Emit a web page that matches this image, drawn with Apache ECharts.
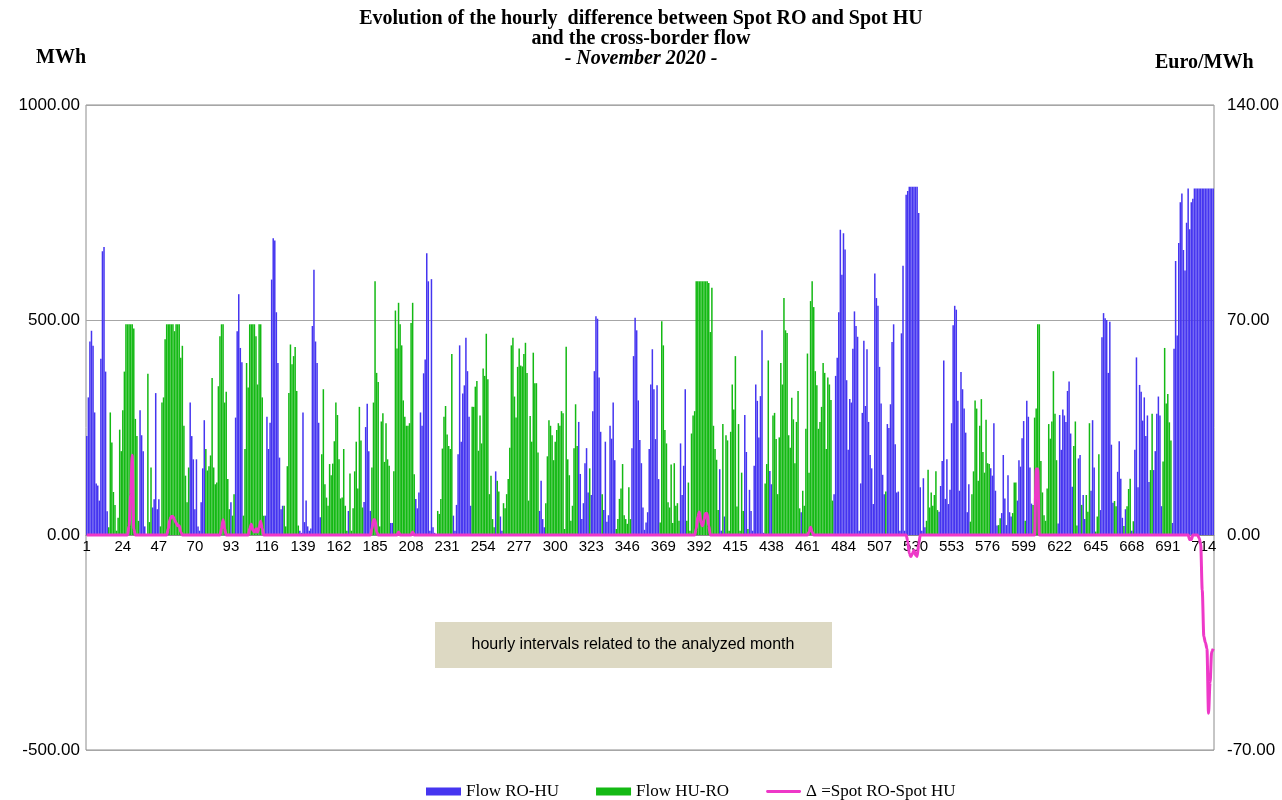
<!DOCTYPE html>
<html>
<head>
<meta charset="utf-8">
<title>Spot RO - Spot HU and cross-border flow, November 2020</title>
<script src="https://cdn.jsdelivr.net/npm/echarts@6/dist/echarts.min.js"></script>
<style>body{margin:0;background:#fff}</style>
</head>
<body>
<div id="main" style="width:1282px;height:800px"></div>
<script>
// hourly net flow, MWh: positive = RO->HU, negative = HU->RO (3 days per line)
var netFlow = [
  230,320,450,475,440,285,120,115,80,410,660,670,380,55,-18,-285,-215,-100,-70,-10,-40,-245,-195,-290,-380,-490,-490,-490,-490,-490,-480,-270,-230,-33,290,232,195,20,0,-375,-30,-157,64,83,330,60,83,-20,-308,-320,-455,-490,-490,-490,-490,-490,-474,-490,-490,-490,-412,-440,-254,-138,-76,-157,308,230,176,60,176,20,
  10,76,155,267,-200,-150,-160,-185,-365,-157,-118,-122,-346,-462,-490,-490,-308,-333,-130,-60,76,-45,-95,273,474,560,435,402,-45,-200,-400,-343,-490,-490,-490,-490,-462,-350,-490,-490,-320,-45,45,275,200,261,594,690,685,518,400,180,60,68,-68,-20,-160,-330,-443,-397,-416,-437,-335,-22,10,5,285,30,80,20,10,15,
  486,617,450,400,261,41,-188,-339,-118,-87,-68,-165,-139,-166,-218,-308,-279,-176,-85,-87,-200,-68,-10,56,-143,-10,-62,-148,-217,-108,-298,-220,-64,77,251,305,195,56,-157,-308,-590,-377,-356,-20,-264,-283,-170,-260,-176,-161,28,28,-148,-522,-434,-540,-490,-441,-313,-275,-254,-254,-260,-493,-540,-141,84,62,99,285,254,376,
  408,655,590,10,595,18,5,0,-56,-49,-84,-201,-275,-300,-234,-207,-200,-421,45,10,70,188,441,217,329,348,459,381,275,68,-298,-298,-345,-358,-196,-278,-213,-387,-370,-468,-362,-95,-138,-37,-18,148,-126,-101,43,10,-74,-62,-95,-130,-203,-441,-459,-322,-273,-391,-434,-394,-392,-421,-447,-377,-80,-277,-217,-424,-353,-353,
  -192,56,126,37,18,-74,-183,-267,-254,-232,-174,-217,-244,-260,-254,-288,-283,-14,-438,-176,-139,-33,-68,-202,-304,-207,263,142,37,74,167,202,99,-155,93,288,381,509,503,366,240,-95,58,217,31,46,254,224,308,174,-14,-37,-84,-108,-165,-46,-37,-26,-111,-37,202,416,505,476,313,221,167,64,12,29,53,200,
  350,432,339,223,348,130,-29,-497,-441,-244,-213,-76,-64,-164,-28,-167,-68,-74,-33,213,93,161,339,-33,-122,-10,-236,-278,-288,-590,-590,-590,-590,-590,-590,-590,-590,-586,-472,-575,-254,-200,-175,-58,153,10,-258,43,-232,-220,-10,-240,-350,-292,-416,-66,-258,-10,-145,-56,279,193,-14,105,56,10,161,350,312,227,323,476,
  5,-120,-165,-406,149,118,-278,-284,-223,-95,-227,-400,-350,-551,-476,-470,-232,-203,-319,-269,-167,-263,-335,-62,53,-103,-68,-247,-422,-145,-544,-590,-530,-381,-348,-247,-263,-298,-400,-377,-200,-366,-350,-314,-80,95,370,412,518,710,605,702,664,360,198,316,308,433,520,486,461,10,120,284,452,300,432,263,186,155,72,608,
  551,533,391,306,140,95,-101,258,249,304,449,490,211,99,101,10,469,626,10,791,800,810,810,810,810,810,810,749,111,10,132,18,-33,-152,-64,-99,-68,-93,-148,-58,54,114,172,406,84,176,72,105,260,488,533,524,312,103,379,339,294,238,53,118,-31,-95,-148,-313,-294,-126,-254,-316,-193,-145,-268,-167,
  -165,155,138,260,103,22,-23,-39,51,186,85,23,139,53,43,-51,-122,-122,80,174,159,225,265,-33,312,275,157,73,-70,-273,-294,-490,-490,-172,-99,-46,-33,-108,-258,-224,-264,-381,-282,-174,27,279,198,292,278,263,335,357,236,112,-207,-264,-22,178,186,-70,93,37,-93,-54,-260,103,267,157,-8,-43,-188,58,
  460,516,504,500,377,496,210,75,-79,-67,147,218,131,40,-21,60,-67,-107,-131,10,-32,198,413,111,349,333,266,320,230,278,123,-151,-282,151,195,282,322,278,67,-171,-435,-306,-328,-262,-220,28,433,637,464,679,774,794,663,615,726,806,711,774,782,806,806,806,806,806,806,806,806,806,806,806,806,806
];

// hourly spot difference RO - HU, Euro/MWh (one day per line)
var spotDelta = [
  0,0,0,0,0,0,0,0,0,0,0,0,0,0,0,0,0,0,0,0,0,0,0,0,
  0,0,0,3,13,26,2,0,0,0,0,0,0,0,0,0,0,0,0,0,0,0,0,0,
  0,0,0,0,2,5,6,6,5,4,3,3,1,0,0,0,0,0,0,0,0,0,0,0,
  0,0,0,0,0,0,0,0,0,0,0,0,0,0,2,5,2,0,0,0,0,0,0,0,
  0,0,0,0,0,0,0,0,2,3.5,1.5,1,2,1,2.5,4.5,2,0,0,0,0,0,0,0,
  0,0,0,0,0,0,0,0,0,0,0,0,0,0,0,0,0,0,0,0,0,0,0,0,
  0,0,0,0,0,0,0,0,0,0,0,0,0,0,0,0,0,0,0,0,0,0,0,0,
  0,0,0,0,0,0,0,0,0,0,0,0,0,0,2,5,5,1,0,0,0,0,0,0,
  0,0,0,0,0,0,0,1,0,0,0,0,0,0,0,0,1,0,0,0,0,0,0,0,
  0,0,0,0,0,0,0,0,0,0,0,0,0,0,0,0,0,0,0,0,0,0,0,0,
  0,0,0,0,0,0,0,0,0,0,0,0,0,0,0,0,0,0,0,0,0,0,0,0,
  0,0,0,0,0,0,0,0,0,0,0,0,0,0,0,0,0,0,0,0,0,0,0,0,
  0,0,0,0,0,0,0,0,0,0,0,0,0,0,0,0,0,0,0,0,0,0,0,0,
  0,0,0,0,0,0,0,0,0,0,0,0,0,0,0,0,0,0,0,0,0,0,0,0,
  0,0,0,0,0,0,0,0,0,0,0,0,0,0,0,0,0,0,0,0,0,0,0,0,
  0,0,0,0,0,0,0,0,0,0,0,0,0,0,0,0,0,0,0,0,0,0,0,0,
  0,0,0,0,0,2,6,7.5,4,3,5,7,7,3,0,0,0,0,0,0,0,0,0,0,
  0,0,0,0,0,0,0,0,0,0,0,0,0,0,0,0,0,0,0,0,0,0,0,0,
  0,0,0,0,0,0,0,0,0,0,0,0,0,0,0,0,0,0,0,0,0,0,0,0,
  0,0,0,0,0,1,2.5,1,0,0,0,0,0,0,0,0,0,0,0,0,0,0,0,0,
  0,0,0,0,0,0,0,0,0,0,0,0,0,0,0,0,0,0,0,0,0,0,0,0,
  0,0,0,0,0,0,0,0,0,0,0,0,0,0,0,0,0,0,0,0,-2,-6,-7,-6,
  -5,-6.5,-7,-3,0,0,0,0,0,0,0,0,0,0,0,0,0,0,0,0,0,0,0,0,
  0,0,0,0,0,0,0,0,0,0,0,0,0,0,0,0,0,0,0,0,0,0,0,0,
  0,0,0,0,0,0,0,0,0,0,0,0,0,0,0,0,0,0,0,0,0,0,0,0,
  0,0,0,0,0,0,21.5,21.5,0,0,0,0,0,0,0,0,0,0,0,0,0,0,0,0,
  0,0,0,0,0,0,0,0,0,0,0,0,0,0,0,0,0,0,0,0,0,0,0,0,
  0,0,0,0,0,0,0,0,0,0,0,0,0,0,0,0,0,0,0,0,0,0,0,0,
  0,0,0,0,0,0,0,0,0,0,0,0,0,0,0,0,0,0,0,0,0,0,0,0,
  0,0,0,0,0,0,0,0,-1.5,-1.5,0,0,0,0,-1,-3,-18,-33,-35,-37,-58,-48,-38,-37
];

var hours = netFlow.map(function (v, i) { return String(i + 1); });
var roHu = netFlow.map(function (v) { return v > 0 ? v : 0; });
var huRo = netFlow.map(function (v) { return v < 0 ? -v : 0; });

var serif = '"Liberation Serif", "Times New Roman", serif';
var sans = '"Liberation Sans", Arial, sans-serif';

var myChart = echarts.init(document.getElementById('main'));

var option = {
  animation: false,
  backgroundColor: '#fff',
  grid: {
    left: 86,
    right: 66,
    top: 105,
    bottom: 50,
    show: true,
    borderColor: '#8c8c8c',
    borderWidth: 1
  },
  legend: {
    left: 421,
    top: 778,
    itemWidth: 35,
    itemHeight: 8,
    itemGap: 37,
    textStyle: { fontFamily: serif, fontSize: 17, color: '#000' },
    data: [
      { name: 'Flow RO-HU', icon: 'rect' },
      { name: 'Flow HU-RO', icon: 'rect' },
      { name: 'Δ =Spot RO-Spot HU', icon: 'path://M1.5,0 H34.5 A1.5,1.5 0 0 1 34.5,3 H1.5 A1.5,1.5 0 0 1 1.5,0 Z' }
    ]
  },
  xAxis: {
    type: 'category',
    data: hours,
    position: 'bottom',
    // the hour axis sits on the 0 MWh line, 500 MWh above the bottom edge
    offset: -215,
    axisLine: { onZero: false, lineStyle: { color: '#8c8c8c', width: 1 } },
    axisTick: { interval: 0, length: 4, lineStyle: { color: '#8c8c8c' } },
    axisLabel: { interval: 22, color: '#000', fontFamily: sans, fontSize: 15, margin: 4 }
  },
  yAxis: [
    {
      type: 'value',
      min: -500,
      max: 1000,
      interval: 500,
      axisLine: { show: false },
      axisTick: { show: false },
      splitLine: { lineStyle: { color: '#a6a6a6' } },
      axisLabel: {
        color: '#000', fontFamily: sans, fontSize: 17, margin: 6,
        formatter: function (v) { return v.toFixed(2); }
      }
    },
    {
      type: 'value',
      min: -70,
      max: 140,
      interval: 70,
      axisLine: { show: false },
      axisTick: { show: false },
      splitLine: { show: false },
      axisLabel: {
        color: '#000', fontFamily: sans, fontSize: 17, margin: 13,
        formatter: function (v) { return v.toFixed(2); }
      }
    }
  ],
  series: [
    {
      name: 'Flow RO-HU',
      type: 'bar',
      stack: 'flow',
      barCategoryGap: '4%',
      itemStyle: { color: '#4535f0' },
      data: roHu
    },
    {
      name: 'Flow HU-RO',
      type: 'bar',
      stack: 'flow',
      itemStyle: { color: '#14b914' },
      data: huRo
    },
    {
      name: 'Δ =Spot RO-Spot HU',
      type: 'line',
      yAxisIndex: 1,
      symbol: 'none',
      smooth: 0.3,
      smoothMonotone: 'x',
      z: 5,
      lineStyle: { color: '#ee38c8', width: 3 },
      itemStyle: { color: '#ee38c8' },
      data: spotDelta
    }
  ],
  graphic: [
    {
      type: 'text', left: 'center', top: 9,
      style: { text: 'Evolution of the hourly  difference between Spot RO and Spot HU', font: 'bold 20px ' + serif, fill: '#000' }
    },
    {
      type: 'text', left: 'center', top: 29,
      style: { text: 'and the cross-border flow', font: 'bold 20px ' + serif, fill: '#000' }
    },
    {
      type: 'text', left: 'center', top: 49,
      style: { text: '- November 2020 -', font: 'italic bold 20px ' + serif, fill: '#000' }
    },
    {
      type: 'text', left: 36, top: 48,
      style: { text: 'MWh', font: 'bold 20px ' + serif, fill: '#000' }
    },
    {
      type: 'text', left: 1155, top: 53,
      style: { text: 'Euro/MWh', font: 'bold 20px ' + serif, fill: '#000' }
    },
    {
      type: 'group', left: 435, top: 622,
      children: [
        { type: 'rect', shape: { x: 0, y: 0, width: 397, height: 46 }, style: { fill: '#ddd9c3' } },
        {
          type: 'text', x: 198, y: 23,
          style: { text: 'hourly intervals related to the analyzed month', font: '16px ' + sans, fill: '#000', align: 'center', verticalAlign: 'middle' }
        }
      ]
    }
  ]
};

myChart.setOption(option);
</script>
</body>
</html>
